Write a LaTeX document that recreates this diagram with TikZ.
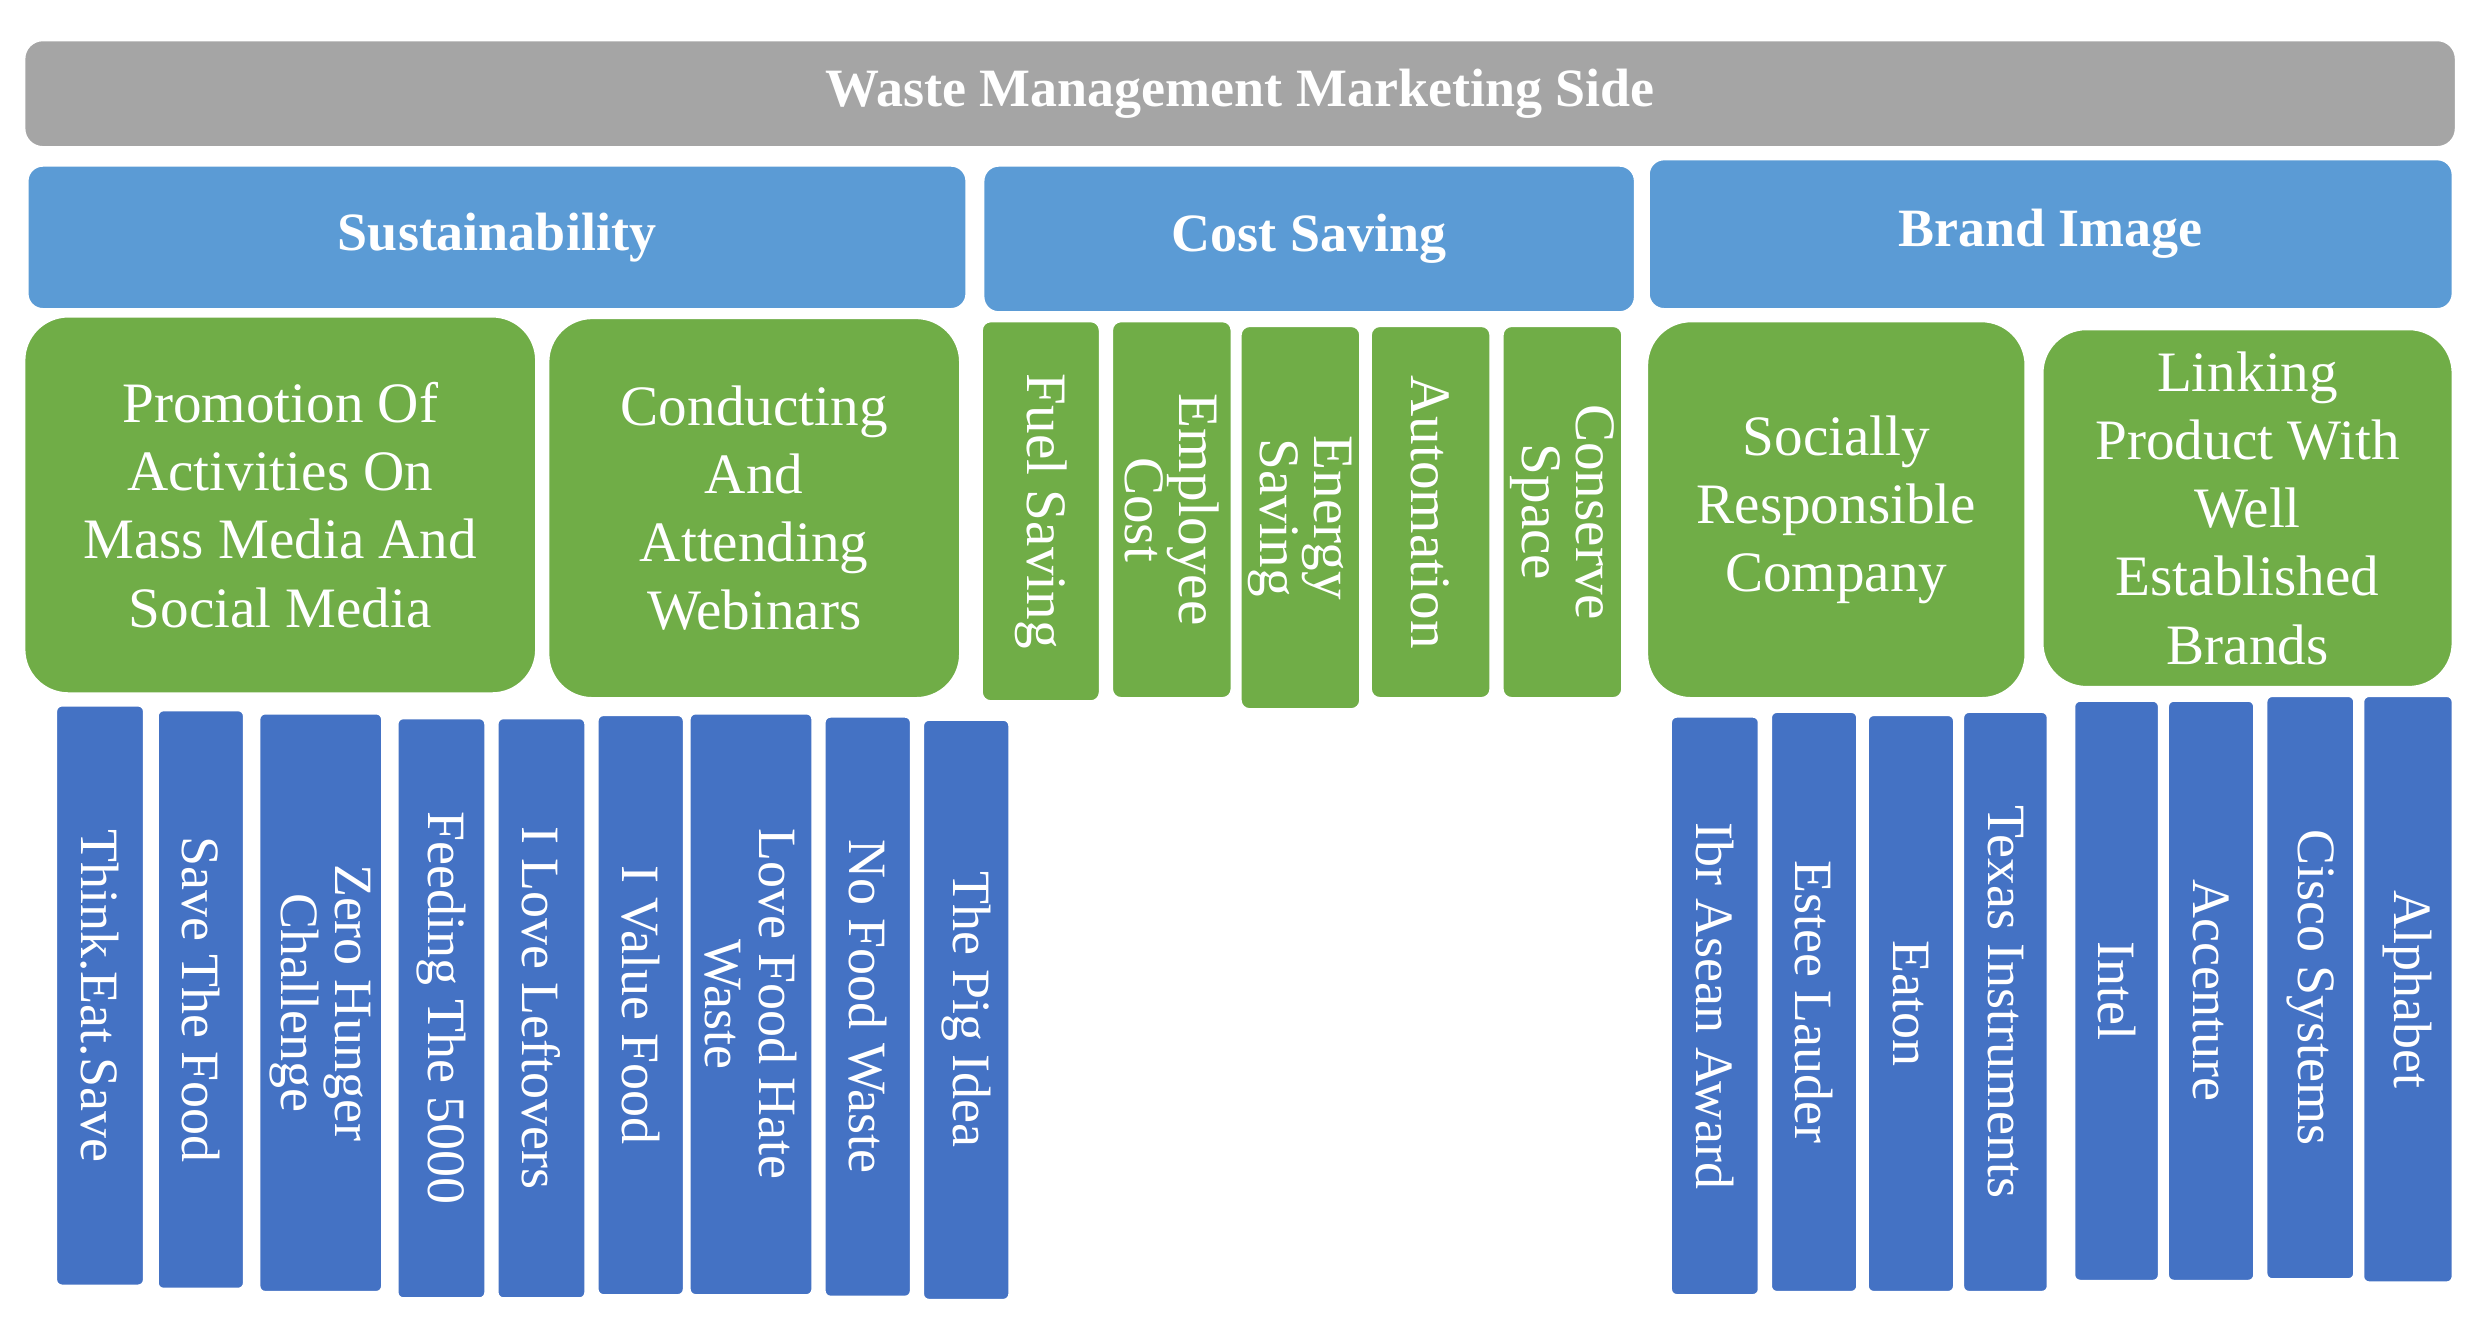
\documentclass[tikz,border=0pt]{standalone}
\usepackage{fontspec}
\setmainfont{Liberation Serif}
\definecolor{tgray}{HTML}{A5A5A5}
\definecolor{hblue}{HTML}{5B9BD5}
\definecolor{lgreen}{HTML}{70AD47}
\definecolor{dblue}{HTML}{4472C4}
\tikzset{
 basebox/.style={draw=white,line width=1pt,text=white,align=center,inner sep=1pt},
 titlebox/.style={basebox,fill=tgray,rounded corners=6pt,font=\fontsize{17}{20}\selectfont\bfseries},
 headbox/.style={basebox,fill=hblue,rounded corners=5pt,font=\fontsize{17}{20}\selectfont\bfseries},
 greenbox/.style={basebox,fill=lgreen,rounded corners=14pt,font=\fontsize{18}{21.5}\selectfont},
 greenv/.style={basebox,fill=lgreen,rounded corners=3pt,font=\fontsize{18}{17}\selectfont},
 darkv/.style={basebox,fill=dblue,rounded corners=2pt,font=\fontsize{17}{17}\selectfont},
}
\newcommand\hbx[7]{\node[#6,minimum width={(#4-#2)*0.5pt},minimum height={(#5-#3)*0.5pt}] (#1) at ({(#2+#4)/2},{(#3+#5)/2}) {#7};}
\newcommand\vbx[7]{\node[#6,rotate=-90,minimum height={(#4-#2)*0.5pt},minimum width={(#5-#3)*0.5pt}] (#1) at ({(#2+#4)/2},{(#3+#5)/2}) {#7};}
\begin{document}
\begin{tikzpicture}[x=0.5pt,y=-0.5pt]
\useasboundingbox[fill=white] (0,0) rectangle (1560,838);
\hbx{title}{15}{25}{1547}{93}{titlebox}{Waste Management Marketing Side}
\hbx{sus}{17}{104}{609}{195}{headbox}{Sustainability}
\hbx{cost}{619}{104}{1030}{197}{headbox}{Cost Saving}
\hbx{brand}{1038}{100}{1545}{195}{headbox}{Brand Image}
\hbx{promo}{15}{199}{338}{437}{greenbox}{Promotion Of\\Activities On\\Mass Media And\\Social Media}
\hbx{webin}{345}{200}{605}{440}{greenbox}{Conducting\\And\\Attending\\Webinars}
\vbx{fuel}{618}{202}{693}{442}{greenv}{Fuel Saving}
\vbx{empl}{700}{202}{776}{440}{greenv}{Employee\\Cost}
\vbx{energy}{781}{205}{857}{447}{greenv}{Energy\\Saving}
\vbx{auto}{863}{205}{939}{440}{greenv}{Automation}
\vbx{space}{946}{205}{1022}{440}{greenv}{Conserve\\Space}
\hbx{social}{1037}{202}{1276}{440}{greenbox}{Socially\\Responsible\\Company}
\hbx{link}{1286}{207}{1545}{433}{greenbox}{Linking\\Product With\\Well\\Established\\Brands}
\vbx{s1}{35}{444}{91}{810}{darkv}{Think.Eat.Save}
\vbx{s2}{99}{447}{154}{812}{darkv}{Save The Food}
\vbx{s3}{163}{449}{241}{814}{darkv}{Zero Hunger\\Challenge}
\vbx{s4}{250}{452}{306}{818}{darkv}{Feeding The 5000}
\vbx{s5}{313}{452}{369}{818}{darkv}{I Love Leftovers}
\vbx{s6}{376}{450}{431}{816}{darkv}{I Value Food}
\vbx{s7}{434}{449}{512}{816}{darkv}{Love Food Hate\\Waste}
\vbx{s8}{519}{451}{574}{817}{darkv}{No Food Waste}
\vbx{s9}{581}{453}{636}{819}{darkv}{The Pig Idea}
\vbx{b1}{1052}{451}{1108}{816}{darkv}{Ibr Asean Award}
\vbx{b2}{1115}{448}{1170}{814}{darkv}{Estee Lauder}
\vbx{b3}{1176}{450}{1231}{814}{darkv}{Eaton}
\vbx{b4}{1236}{448}{1290}{814}{darkv}{Texas Instruments}
\vbx{b5}{1306}{441}{1360}{807}{darkv}{Intel}
\vbx{b6}{1365}{441}{1420}{807}{darkv}{Accenture}
\vbx{b7}{1427}{438}{1483}{806}{darkv}{Cisco Systems}
\vbx{b8}{1488}{438}{1545}{808}{darkv}{Alphabet}
\end{tikzpicture}
\end{document}
